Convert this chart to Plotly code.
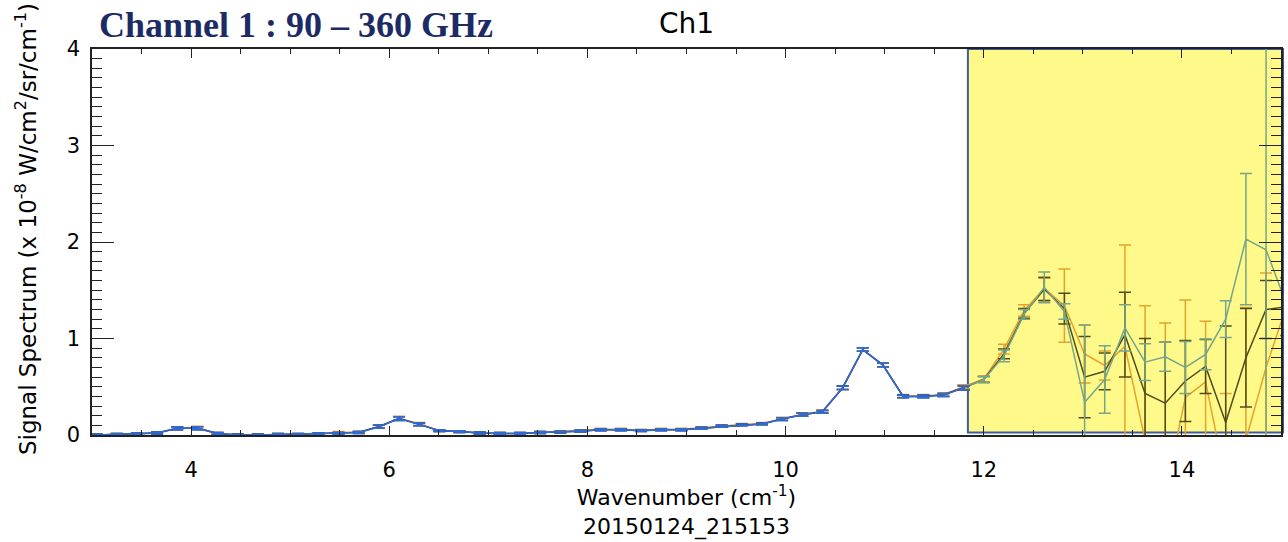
import plotly.graph_objects as go

# ---------------- data ----------------
wavenumber = [3.046, 3.250, 3.453, 3.657, 3.860, 4.064, 4.267, 4.471, 4.674, 4.878,
              5.081, 5.285, 5.488, 5.692, 5.895, 6.099, 6.302, 6.506, 6.709, 6.913,
              7.116, 7.320, 7.523, 7.727, 7.930, 8.134, 8.337, 8.541, 8.744, 8.948,
              9.151, 9.355, 9.558, 9.762, 9.965, 10.169, 10.372, 10.576, 10.779, 10.983,
              11.186, 11.390, 11.593, 11.797, 12.000, 12.204, 12.407, 12.611, 12.814, 13.018,
              13.221, 13.425, 13.628, 13.832, 14.035, 14.239, 14.442, 14.646, 14.849, 15.053]

blue_signal = [0.0, 0.005, 0.01, 0.02, 0.07, 0.07, 0.015, 0.0, 0.0, 0.005,
               0.005, 0.01, 0.015, 0.025, 0.085, 0.17, 0.11, 0.045, 0.035, 0.02,
               0.015, 0.015, 0.025, 0.03, 0.04, 0.055, 0.055, 0.045, 0.055, 0.055,
               0.07, 0.09, 0.105, 0.115, 0.165, 0.21, 0.24, 0.49, 0.885, 0.725,
               0.40, 0.40, 0.415, 0.49, 0.575, 0.82, 1.25, 1.53, 1.28, 0.34,
               0.575, 1.11, 0.755, 0.81, 0.70, 0.835, 1.20, 2.03, 1.92, 1.36]
blue_err = [0.01, 0.01, 0.01, 0.01, 0.015, 0.015, 0.01, 0.01, 0.01, 0.01,
            0.01, 0.01, 0.01, 0.01, 0.015, 0.02, 0.015, 0.01, 0.01, 0.01,
            0.01, 0.01, 0.01, 0.01, 0.01, 0.01, 0.01, 0.01, 0.01, 0.01,
            0.01, 0.01, 0.01, 0.01, 0.015, 0.015, 0.015, 0.018, 0.018, 0.018,
            0.015, 0.015, 0.015, 0.02, 0.03, 0.06, 0.05, 0.16, 0.08, 0.80,
            0.35, 0.24, 0.19, 0.15, 0.27, 0.16, 0.19, 0.68, 2.15, 1.0]

dark_signal = [0.0, 0.005, 0.01, 0.02, 0.07, 0.07, 0.015, 0.0, 0.0, 0.005,
               0.005, 0.01, 0.015, 0.025, 0.085, 0.17, 0.11, 0.045, 0.035, 0.02,
               0.015, 0.015, 0.025, 0.03, 0.04, 0.055, 0.055, 0.045, 0.055, 0.055,
               0.07, 0.09, 0.105, 0.115, 0.165, 0.21, 0.24, 0.49, 0.885, 0.725,
               0.40, 0.40, 0.415, 0.49, 0.575, 0.84, 1.26, 1.51, 1.31, 0.60,
               0.66, 1.04, 0.43, 0.33, 0.56, 0.71, 0.13, 0.80, 1.30, 1.33]
dark_err = [0.01, 0.01, 0.01, 0.01, 0.015, 0.015, 0.01, 0.01, 0.01, 0.01,
            0.01, 0.01, 0.01, 0.01, 0.015, 0.02, 0.015, 0.01, 0.01, 0.01,
            0.01, 0.01, 0.01, 0.01, 0.01, 0.01, 0.01, 0.01, 0.01, 0.01,
            0.01, 0.01, 0.01, 0.01, 0.015, 0.015, 0.015, 0.018, 0.018, 0.018,
            0.015, 0.015, 0.015, 0.02, 0.03, 0.05, 0.05, 0.12, 0.16, 0.42,
            0.19, 0.44, 0.57, 0.63, 0.42, 0.28, 1.0, 0.51, 0.30, 0.30]

orange_signal = [0.0, 0.005, 0.01, 0.02, 0.07, 0.075, 0.015, 0.0, 0.0, 0.005,
                 0.005, 0.01, 0.025, 0.03, 0.09, 0.175, 0.115, 0.045, 0.035, 0.02,
                 0.015, 0.015, 0.025, 0.035, 0.045, 0.06, 0.06, 0.05, 0.06, 0.06,
                 0.075, 0.095, 0.11, 0.12, 0.17, 0.215, 0.245, 0.49, 0.885, 0.725,
                 0.405, 0.405, 0.42, 0.50, 0.58, 0.89, 1.29, 1.52, 1.34, 0.84,
                 0.72, 0.92, -0.05, -0.60, 0.39, 0.55, -0.47, -0.05, 0.70, 1.33]
orange_err = [0.01, 0.01, 0.01, 0.01, 0.015, 0.015, 0.01, 0.01, 0.01, 0.01,
              0.01, 0.01, 0.01, 0.01, 0.015, 0.02, 0.015, 0.01, 0.01, 0.01,
              0.01, 0.01, 0.01, 0.01, 0.01, 0.01, 0.01, 0.01, 0.01, 0.01,
              0.01, 0.01, 0.01, 0.01, 0.015, 0.015, 0.015, 0.018, 0.018, 0.018,
              0.015, 0.015, 0.015, 0.02, 0.03, 0.05, 0.06, 0.12, 0.38, 0.30,
              0.15, 1.05, 1.39, 1.76, 1.01, 0.63, 0.90, 1.37, 0.98, 1.0]

x_range = [3, 15]
y_range = [0, 4]
box_x0 = 11.84          # start of highlighted region (cm^-1)
box_y0 = 0.026

# ---------------- styles ----------------
series = [
    # name, y, err, colour outside box, colour inside (yellow) box
    ("orange", orange_signal, orange_err, "#E8922A", "#E6A22E"),
    ("dark", dark_signal, dark_err, "#2B2B3A", "#4F4B1C"),
    ("blue", blue_signal, blue_err, "#2C6BD8", "#74A68A"),
]

first_in = next(i for i, v in enumerate(wavenumber) if v >= box_x0)
in_idx = list(range(first_in - 1, len(wavenumber)))
out_idx = list(range(0, first_in))

fig = go.Figure()

for part, idx, cpos in (("in", in_idx, 4), ("out", out_idx, 3)):
    for s in series:
        name, ys, es, col = s[0], s[1], s[2], s[cpos]
        fig.add_trace(go.Scatter(
            x=[wavenumber[i] for i in idx],
            y=[ys[i] for i in idx],
            mode="lines",
            line=dict(color=col, width=1.5),
            error_y=dict(type="data", array=[es[i] for i in idx], visible=True,
                         color=col, thickness=1.5, width=6),
            showlegend=False, name=name, hoverinfo="skip",
        ))

FONT = "DejaVu Sans"
PLOT_L, PLOT_R, PLOT_T, PLOT_B = 92, 1283, 49, 435
pw, ph = PLOT_R - PLOT_L, PLOT_B - PLOT_T
span = x_range[1] - x_range[0]

fig.add_shape(type="rect", xref="paper", yref="paper",
              x0=(box_x0 - x_range[0]) / span, x1=1.0017,
              y0=box_y0 / (y_range[1] - y_range[0]), y1=1.0,
              fillcolor="#FFF98A", line=dict(color="#3E5C9C", width=2), layer="below")

fig.add_annotation(text="<b>Channel 1 : 90 – 360 GHz</b>", xref="paper", yref="paper",
                   x=(97 - PLOT_L) / pw, y=(PLOT_B - 25) / ph, xanchor="left", yanchor="middle",
                   showarrow=False,
                   font=dict(family="Liberation Serif", size=36, color="#1C2B66"))
fig.add_annotation(text="20150124_215153", xref="paper", yref="paper",
                   x=0.5, y=(PLOT_B - 527) / ph, xanchor="center", yanchor="middle",
                   showarrow=False, font=dict(family=FONT, size=22, color="black"))
fig.add_annotation(text="Signal Spectrum (x 10<sup>-8</sup> W/cm<sup>2</sup>/sr/cm<sup>-1</sup>)",
                   xref="paper", yref="paper", textangle=-90,
                   x=(26 - PLOT_L) / pw, y=(PLOT_B - 229) / ph,
                   xanchor="center", yanchor="middle", showarrow=False,
                   font=dict(family=FONT, size=23, color="black"))

axis_common = dict(showline=True, linecolor="#222222", linewidth=1.5, mirror="ticks",
                   showgrid=False, zeroline=False, ticks="inside", tickcolor="#222222",
                   tickwidth=1.2, tickfont=dict(family=FONT, size=21, color="black"))

fig.update_layout(
    width=1288, height=542, autosize=False,
    margin=dict(l=PLOT_L, r=1288 - PLOT_R, t=PLOT_T, b=542 - PLOT_B),
    paper_bgcolor="white", plot_bgcolor="rgba(0,0,0,0)",
    title=dict(text="Ch1", x=0.5, xref="paper", xanchor="center",
               y=1 - 23 / 542, yref="container", yanchor="middle",
               font=dict(family=FONT, size=28, color="black")),
    xaxis=dict(range=x_range, tick0=0, dtick=2, ticklen=9,
               minor=dict(dtick=0.5, ticklen=5, ticks="inside", tickcolor="#222222"),
               ticklabelstandoff=15,
               title=dict(text="Wavenumber (cm<sup>-1</sup>)", standoff=0,
                          font=dict(family=FONT, size=22, color="black")),
               **axis_common),
    yaxis=dict(range=y_range, tick0=0, dtick=1, ticklen=22,
               minor=dict(dtick=0.1, ticklen=10, ticks="inside", tickcolor="#222222"),
               ticklabelstandoff=6,
               **axis_common),
)

fig.write_html("out.html")
